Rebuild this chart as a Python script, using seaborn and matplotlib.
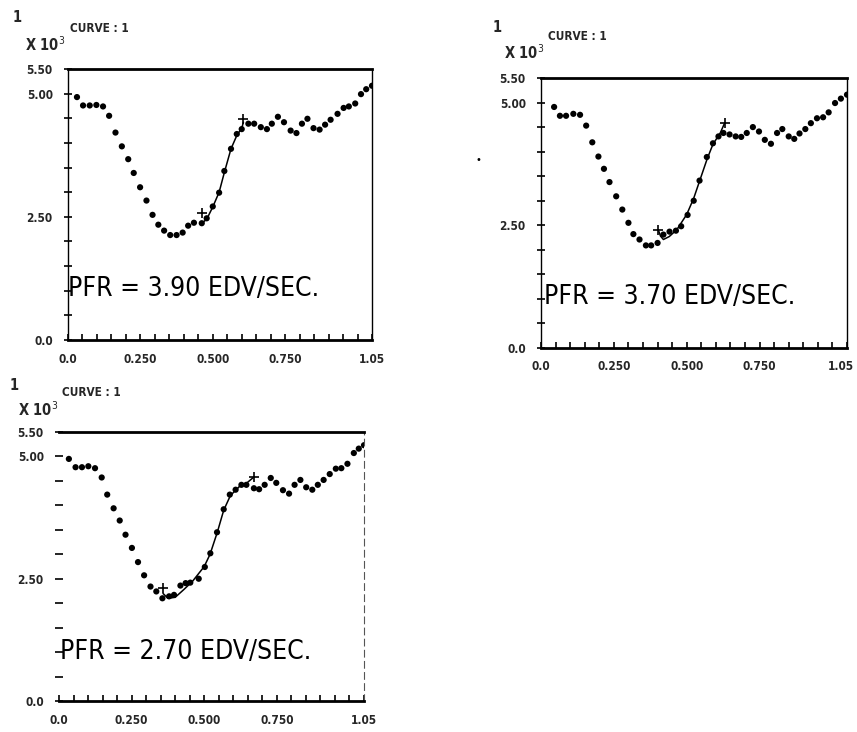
import numpy as np
import pandas as pd
import matplotlib
matplotlib.use("Agg")
import matplotlib.pyplot as plt
import matplotlib.transforms as mtransforms
import seaborn as sns
from matplotlib.ticker import FixedLocator, MultipleLocator

# ---------------- data ----------------
# panel A (top-left), PFR = 3.90
a_t = [0.031, 0.052, 0.075, 0.098, 0.121, 0.142, 0.164, 0.186, 0.208, 0.227,
       0.249, 0.271, 0.292, 0.312, 0.332, 0.353, 0.375, 0.396, 0.415, 0.435,
       0.462, 0.479, 0.500, 0.522, 0.540, 0.563, 0.583, 0.600, 0.623, 0.643,
       0.666, 0.687, 0.704, 0.725, 0.746, 0.769, 0.789, 0.808, 0.827, 0.848,
       0.869, 0.888, 0.907, 0.931, 0.952, 0.970, 0.992, 1.012, 1.030, 1.050]
a_v = [4.93, 4.76, 4.76, 4.77, 4.74, 4.55, 4.21, 3.93, 3.67, 3.39,
       3.10, 2.83, 2.54, 2.34, 2.22, 2.13, 2.13, 2.18, 2.32, 2.38,
       2.37, 2.47, 2.71, 2.99, 3.43, 3.88, 4.18, 4.28, 4.39, 4.39,
       4.32, 4.28, 4.39, 4.53, 4.42, 4.25, 4.20, 4.39, 4.49, 4.30,
       4.27, 4.37, 4.47, 4.59, 4.71, 4.74, 4.80, 4.99, 5.09, 5.16]
a_fit_t = [0.462, 0.479, 0.500, 0.522, 0.540, 0.563, 0.583, 0.600, 0.606]
a_fit_v = [2.37, 2.45, 2.70, 3.00, 3.40, 3.88, 4.15, 4.30, 4.42]
a_mark_t = [0.464, 0.606]
a_mark_v = [2.57, 4.49]

# panel B (top-right), PFR = 3.70
b_t = [0.045, 0.065, 0.086, 0.111, 0.134, 0.155, 0.176, 0.197, 0.216, 0.235,
       0.258, 0.279, 0.300, 0.317, 0.338, 0.360, 0.378, 0.400, 0.420, 0.441,
       0.463, 0.481, 0.503, 0.524, 0.544, 0.569, 0.590, 0.609, 0.626, 0.647,
       0.668, 0.687, 0.706, 0.727, 0.748, 0.768, 0.789, 0.810, 0.828, 0.850,
       0.869, 0.887, 0.907, 0.926, 0.947, 0.968, 0.987, 1.009, 1.029, 1.050]
b_v = [4.91, 4.73, 4.73, 4.77, 4.75, 4.53, 4.19, 3.90, 3.65, 3.38,
       3.09, 2.82, 2.55, 2.32, 2.21, 2.09, 2.09, 2.14, 2.31, 2.37,
       2.39, 2.48, 2.71, 3.00, 3.41, 3.89, 4.17, 4.31, 4.38, 4.35,
       4.31, 4.30, 4.38, 4.50, 4.41, 4.24, 4.16, 4.38, 4.46, 4.31,
       4.26, 4.37, 4.46, 4.58, 4.68, 4.70, 4.80, 4.99, 5.08, 5.16]
b_fit_t = [0.403, 0.410, 0.420, 0.440, 0.466, 0.500, 0.524, 0.547, 0.570, 0.590, 0.615, 0.630]
b_fit_v = [2.40, 2.28, 2.21, 2.27, 2.41, 2.72, 3.05, 3.45, 3.85, 4.15, 4.38, 4.58]
b_mark_t = [0.403, 0.630]
b_mark_v = [2.40, 4.58]

# panel C (bottom-left), PFR = 2.70
c_t = [0.034, 0.057, 0.079, 0.101, 0.124, 0.147, 0.166, 0.188, 0.209, 0.229,
       0.251, 0.272, 0.293, 0.315, 0.335, 0.356, 0.379, 0.396, 0.418, 0.436,
       0.452, 0.481, 0.502, 0.521, 0.544, 0.567, 0.588, 0.608, 0.628, 0.645,
       0.671, 0.689, 0.708, 0.729, 0.748, 0.771, 0.792, 0.811, 0.831, 0.851,
       0.872, 0.891, 0.911, 0.932, 0.953, 0.972, 0.993, 1.015, 1.032, 1.050]
c_v = [4.95, 4.78, 4.78, 4.80, 4.76, 4.57, 4.22, 3.94, 3.69, 3.40,
       3.13, 2.84, 2.57, 2.34, 2.24, 2.10, 2.14, 2.17, 2.36, 2.41,
       2.42, 2.50, 2.74, 3.02, 3.45, 3.92, 4.22, 4.32, 4.42, 4.42,
       4.35, 4.33, 4.42, 4.56, 4.46, 4.31, 4.24, 4.42, 4.52, 4.37,
       4.32, 4.42, 4.52, 4.64, 4.75, 4.76, 4.85, 5.07, 5.16, 5.23]
c_fit_t = [0.358, 0.375, 0.400, 0.430, 0.460, 0.500, 0.520, 0.545, 0.567, 0.590, 0.620, 0.645, 0.671]
c_fit_v = [2.20, 2.10, 2.12, 2.28, 2.45, 2.75, 3.00, 3.45, 3.90, 4.20, 4.38, 4.45, 4.58]
c_mark_t = [0.358, 0.671]
c_mark_v = [2.31, 4.58]

pfr_labels = ["PFR = 3.90 EDV/SEC.", "PFR = 3.70 EDV/SEC.", "PFR = 2.70 EDV/SEC."]
curve_label = "CURVE : 1"
x_ticks = [0.0, 0.25, 0.5, 0.75, 1.05]
x_ticklabels = ["0.0", "0.250", "0.500", "0.750", "1.05"]
y_ticks = [0.0, 2.5, 5.0, 5.5]
y_ticklabels = ["0.0", "2.50", "5.00", "5.50"]

# ---------------- style ----------------
sns.set_theme(style="white")
FONT = ['DejaVu Sans']
plt.rcParams['font.family'] = FONT
plt.rcParams['font.stretch'] = 'condensed'

W, H = 857, 732
fig = plt.figure(figsize=(W / 100, H / 100), dpi=100)
fig.patch.set_facecolor("white")


def px_axes(l, t, r, b):
    return fig.add_axes([l / W, 1 - b / H, (r - l) / W, (b - t) / H])


def ftext(x, y, s, **kw):
    kw.setdefault("fontstretch", "condensed")
    kw.setdefault("family", FONT)
    fig.text(x / W, 1 - y / H, s, **kw)


panels = [
    dict(box=(68, 69, 372, 340), t=a_t, v=a_v, ft=a_fit_t, fv=a_fit_v, mt=a_mark_t, mv=a_mark_v,
         pfr=pfr_labels[0], pfr_xy=(68, 289), style="full"),
    dict(box=(541, 78, 847, 348), t=b_t, v=b_v, ft=b_fit_t, fv=b_fit_v, mt=b_mark_t, mv=b_mark_v,
         pfr=pfr_labels[1], pfr_xy=(544, 297), style="full"),
    dict(box=(59, 432, 364, 701), t=c_t, v=c_v, ft=c_fit_t, fv=c_fit_v, mt=c_mark_t, mv=c_mark_v,
         pfr=pfr_labels[2], pfr_xy=(60, 652), style="open"),
]

axes = []
for p in panels:
    l, t, r, b = p["box"]
    ax = px_axes(l, t, r, b)
    axes.append(ax)
    ax.set_facecolor("white")
    df = pd.DataFrame({"t": p["t"], "v": p["v"]})
    sns.scatterplot(data=df, x="t", y="v", ax=ax, color="black", s=20, marker="o",
                    edgecolor="none", legend=False, zorder=3)
    dfit = pd.DataFrame({"t": p["ft"], "v": p["fv"]})
    sns.lineplot(data=dfit, x="t", y="v", ax=ax, color="black", lw=1.1, sort=False,
                 estimator=None, legend=False, zorder=2)
    dm = pd.DataFrame({"t": p["mt"], "v": p["mv"]})
    sns.scatterplot(data=dm, x="t", y="v", ax=ax, color="black", s=45, marker="+",
                    linewidth=1.2, legend=False, zorder=4)
    ax.set_xlim(0, 1.05)
    ax.set_ylim(0, 5.5)
    ax.set_xlabel("")
    ax.set_ylabel("")
    ax.xaxis.set_major_locator(FixedLocator(x_ticks))
    ax.set_xticklabels(x_ticklabels)
    ax.xaxis.set_minor_locator(MultipleLocator(0.05))
    ax.yaxis.set_major_locator(FixedLocator(y_ticks))
    ax.set_yticklabels(y_ticklabels)
    ax.yaxis.set_minor_locator(FixedLocator([0.5, 1.0, 1.5, 2.0, 3.0, 3.5, 4.0, 4.5]))
    ax.tick_params(axis="x", which="both", direction="in", length=4, width=1.2,
                   color="black", labelsize=8.5, pad=9, bottom=True, top=False)
    ax.tick_params(axis="y", which="both", direction="inout", length=6, width=1.2,
                   color="black", labelsize=8.5, pad=8, left=True, right=False)
    for lab in ax.get_xticklabels() + ax.get_yticklabels():
        lab.set_fontweight("bold")
        lab.set_fontstretch("condensed")
        lab.set_family(FONT)
    for s in ax.spines.values():
        s.set_color("black")
    ax.spines["top"].set_linewidth(2.0)
    ax.spines["bottom"].set_linewidth(2.0)
    if p["style"] == "full":
        ax.spines["left"].set_linewidth(1.0)
        ax.spines["right"].set_linewidth(1.0)
    else:
        ax.spines["left"].set_visible(False)
        ax.spines["right"].set_linewidth(0.8)
        ax.spines["right"].set_linestyle((0, (6, 4)))
        ax.spines["right"].set_color("#555555")
    ax.grid(False)
    # PFR text
    x0, y0 = p["pfr_xy"]
    ftext(x0, y0, p["pfr"], fontsize=19, fontweight="normal", va="center", ha="left",
          color="black")

# keep the last x label of the top-right panel inside the figure
last = axes[1].get_xticklabels()[-1]
last.set_horizontalalignment("right")
last.set_transform(last.get_transform() +
                   mtransforms.ScaledTranslation(7 / 100, 0, fig.dpi_scale_trans))

# header texts
for (one_xy, curve_xy, x10_xy) in [((13, 18), (70, 28), (25, 45)),
                                   ((493, 28), (548, 37), (504, 53)),
                                   ((10, 385), (62, 392), (18, 410))]:
    ftext(*one_xy, "1", fontsize=10.5, fontweight="bold", va="center", ha="left")
    ftext(*curve_xy, curve_label, fontsize=8.5, fontweight="bold", va="center", ha="left")
    ftext(*x10_xy, "X 10$^{3}$", fontsize=10.5, fontweight="bold", va="center", ha="left")

# stray mark at left of the top-right panel
ftext(478, 160, "•", fontsize=8, va="center", ha="center", color="black")

fig.savefig("out.png", dpi=100, facecolor="white")
